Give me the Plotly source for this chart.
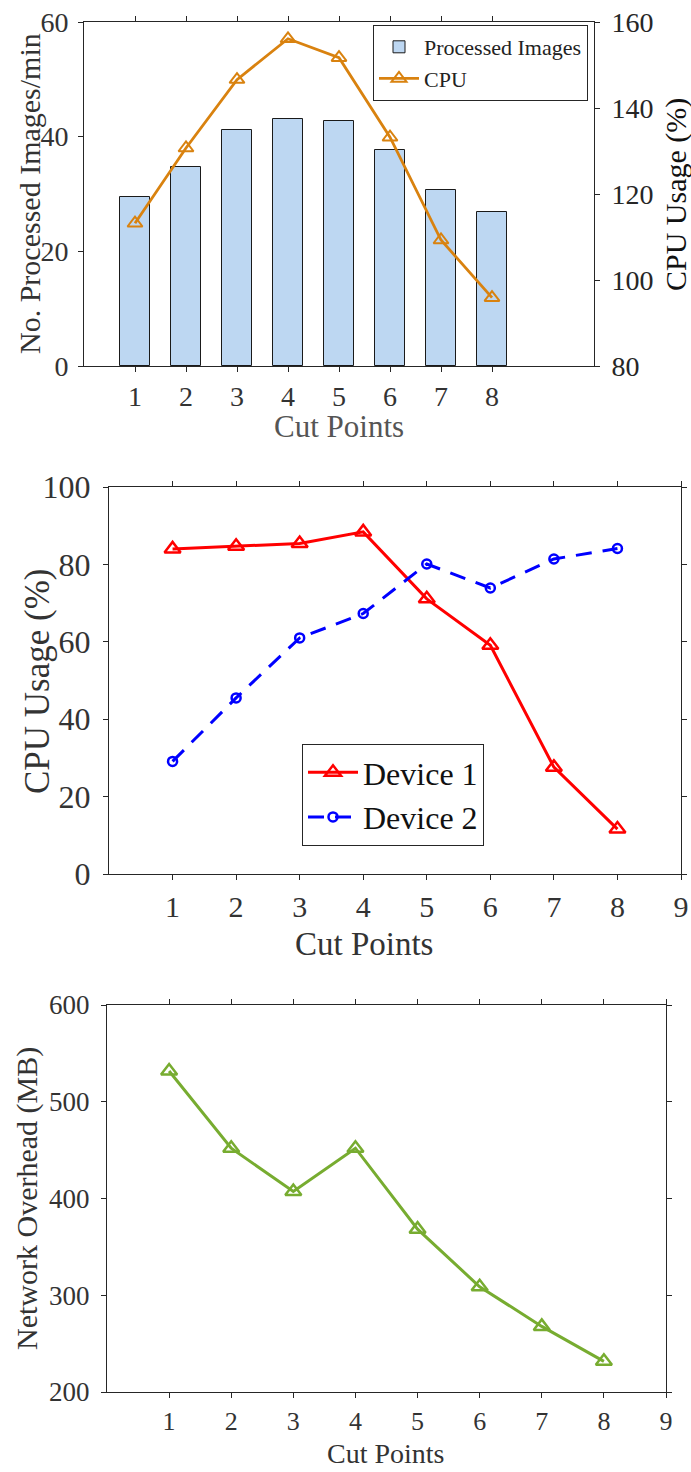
import plotly.graph_objects as go

# ---------------- data ----------------
cut_points = [1, 2, 3, 4, 5, 6, 7, 8]
processed_images = [29.4, 34.7, 41.1, 43.1, 42.7, 37.7, 30.7, 26.8]
cpu_total = [113.2, 130.7, 146.6, 156.1, 151.7, 133.2, 109.3, 95.9]
device1_cpu = [84.0, 84.7, 85.4, 88.4, 71.1, 59.1, 27.6, 11.6]
device2_cpu = [29.1, 45.5, 61.0, 67.3, 80.1, 73.9, 81.4, 84.1]
network_overhead = [531.8, 452.0, 407.2, 452.0, 368.3, 308.8, 267.8, 231.7]

W, H = 691, 1472
FONT = "Liberation Serif"
AX = "#262626"

def px_x(v):
    return v / W

def px_y(v):
    return 1 - v / H

fig = go.Figure()

# ---------- panel 1 ----------
fig.add_trace(go.Bar(
    x=cut_points, y=processed_images, name="Processed Images",
    marker=dict(color="#BDD7F2", line=dict(color="#1a1a1a", width=1)),
    width=0.6, xaxis="x", yaxis="y", legend="legend",
))
fig.add_trace(go.Scatter(
    x=cut_points, y=cpu_total, name="CPU", mode="lines+markers",
    line=dict(color="#D9820F", width=2.8),
    marker=dict(symbol="triangle-up-open", size=13, color="#D9820F",
                line=dict(width=2, color="#D9820F")),
    xaxis="x", yaxis="y2", legend="legend",
))

# ---------- panel 2 ----------
fig.add_trace(go.Scatter(
    x=cut_points, y=device1_cpu, name="Device 1", mode="lines+markers",
    line=dict(color="#FF0000", width=3),
    marker=dict(symbol="triangle-up-open", size=14, color="#FF0000",
                line=dict(width=2.5, color="#FF0000")),
    xaxis="x2", yaxis="y3", legend="legend2",
))
fig.add_trace(go.Scatter(
    x=cut_points, y=device2_cpu, name="Device 2", mode="lines+markers",
    line=dict(color="#0000FF", width=3, dash="16px,11px"),
    marker=dict(symbol="circle-open", size=9, color="#0000FF",
                line=dict(width=2.5, color="#0000FF")),
    xaxis="x2", yaxis="y3", legend="legend2",
))

# ---------- panel 3 ----------
fig.add_trace(go.Scatter(
    x=cut_points, y=network_overhead, name="Network Overhead", mode="lines+markers",
    line=dict(color="#77AC30", width=3),
    marker=dict(symbol="triangle-up-open", size=14, color="#77AC30",
                line=dict(width=2.5, color="#77AC30")),
    xaxis="x3", yaxis="y4", showlegend=False,
))

common = dict(showgrid=False, zeroline=False, showline=True, linecolor=AX,
              linewidth=1, ticks="outside", ticklen=5, tickcolor=AX,
              automargin=False)

def title_ann(text, x, y, size, color="#333333", angle=0, yanchor="middle"):
    return dict(text=text, x=px_x(x), y=px_y(y), xref="paper", yref="paper",
                xanchor="center", yanchor=yanchor, showarrow=False,
                textangle=angle, font=dict(family=FONT, size=size, color=color))

annotations = [
    title_ann("Cut Points", 339, 426, 31, "#555555"),
    title_ann("No. Processed Images/min", 29, 194, 30, "#333333", -90),
    title_ann("CPU Usage (%)", 676, 195, 30, "#111111", -90),
    title_ann("Cut Points", 364, 944, 33, "#333333"),
    title_ann("CPU Usage (%)", 37, 681, 35, "#333333", -90),
    title_ann("Cut Points", 385, 1471, 28, "#333333", 0, "bottom"),
    title_ann("Network Overhead (MB)", 27, 1199, 30, "#333333", -90),
]

fig.update_layout(
    width=W, height=H, autosize=False,
    margin=dict(l=0, r=0, t=0, b=0, pad=0, autoexpand=False),
    paper_bgcolor="white", plot_bgcolor="white",
    font=dict(family=FONT, color=AX),
    annotations=annotations,
    xaxis=dict(domain=[px_x(84), px_x(594)], anchor="y", range=[0, 10],
               tickvals=cut_points, mirror="ticks",
               tickfont=dict(size=28, color="#333333"),
               ticklabelstandoff=0, **common),
    yaxis=dict(domain=[px_y(366), px_y(22)], anchor="x", range=[0, 60],
               tickvals=[0, 20, 40, 60],
               tickfont=dict(size=28, color="#333333"),
               ticklabelstandoff=4, **common),
    yaxis2=dict(overlaying="y", side="right", anchor="x", range=[80, 160],
                tickvals=[80, 100, 120, 140, 160],
                tickfont=dict(size=28, color="#262626"),
                ticklabelstandoff=6, **common),
    legend=dict(x=px_x(588), xanchor="right", y=px_y(25), yanchor="top",
                bordercolor=AX, borderwidth=1, bgcolor="white",
                font=dict(size=22, family=FONT, color="#222222"),
                tracegroupgap=0, itemwidth=40),

    xaxis2=dict(domain=[px_x(109), px_x(681)], anchor="y3", range=[0, 9],
                tickvals=list(range(1, 10)), mirror="ticks",
                tickfont=dict(size=30, color="#333333"),
                ticklabelstandoff=1, **common),
    yaxis3=dict(domain=[px_y(874), px_y(487)], anchor="x2", range=[0, 100],
                tickvals=[0, 20, 40, 60, 80, 100], mirror="ticks",
                tickfont=dict(size=32, color="#333333"),
                ticklabelstandoff=6, **common),
    legend2=dict(x=px_x(302), xanchor="left", y=px_y(744), yanchor="top",
                 bordercolor=AX, borderwidth=1, bgcolor="white",
                 font=dict(size=32, family=FONT, color="#111111"),
                 itemwidth=50),

    xaxis3=dict(domain=[px_x(107), px_x(666)], anchor="y4", range=[0, 9],
                tickvals=list(range(1, 10)), mirror="ticks",
                tickfont=dict(size=26, color="#333333"),
                ticklabelstandoff=1, **common),
    yaxis4=dict(domain=[px_y(1392), px_y(1005)], anchor="x3", range=[200, 600],
                tickvals=[200, 300, 400, 500, 600], mirror="ticks",
                tickfont=dict(size=27, color="#333333"),
                ticklabelstandoff=6, **common),
    showlegend=True,
    bargap=0,
)

fig.write_html("out.html", config={"displayModeBar": False},
               post_script="document.body.style.margin='0';")
